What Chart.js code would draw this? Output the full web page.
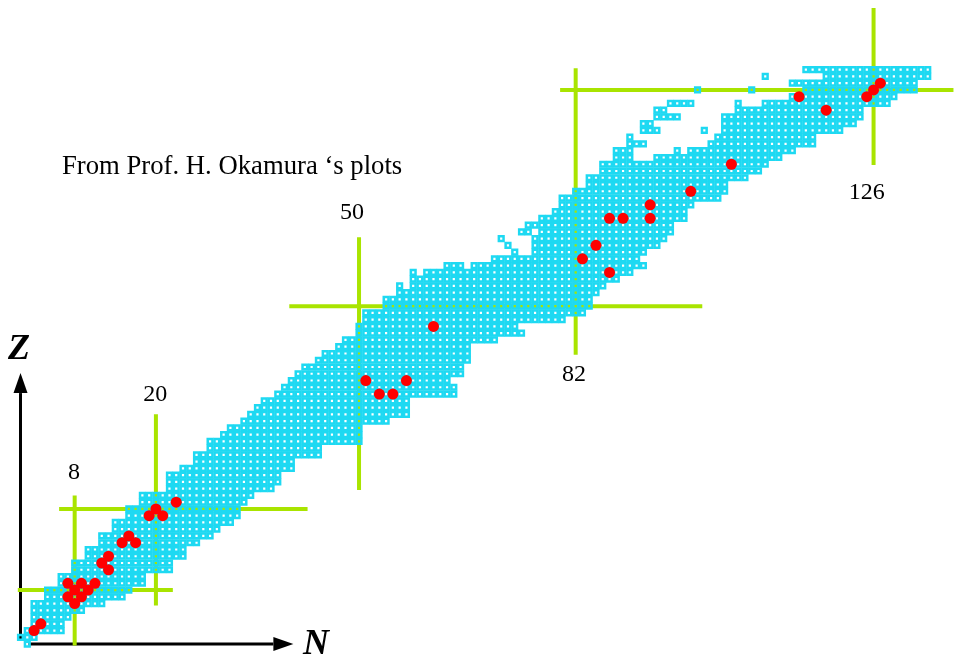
<!DOCTYPE html>
<html>
<head>
<meta charset="utf-8">
<script src="https://cdn.jsdelivr.net/npm/chart.js@4.4.0/dist/chart.umd.min.js"></script>
<style>
  html, body { margin: 0; padding: 0; background: #fff; }
  #wrap { width: 967px; height: 661px; position: relative; }
</style>
</head>
<body>
<div id="wrap"><canvas id="nuclideChart"></canvas></div>
<script>
// known nuclides: [Z, first N, last N]
const knownRuns = [
  [0, 1, 1], [1, 0, 2], [2, 1, 6], [3, 2, 6], [4, 2, 7], [5, 2, 9], [6, 2, 12],
  [7, 4, 15], [8, 4, 16], [9, 6, 18], [10, 6, 18], [11, 8, 22], [12, 8, 22],
  [13, 10, 24], [14, 10, 24], [15, 12, 26], [16, 12, 28], [17, 14, 29], [18, 14, 31],
  [19, 16, 32], [20, 16, 32], [21, 18, 33], [22, 18, 34], [23, 22, 37], [24, 22, 38],
  [25, 22, 38], [26, 24, 40], [27, 26, 40], [28, 26, 44], [29, 28, 44], [30, 28, 50],
  [31, 30, 50], [32, 31, 50], [33, 33, 54], [34, 34, 57], [35, 35, 57], [36, 36, 57],
  [37, 38, 64], [38, 39, 64], [39, 40, 63], [40, 41, 65], [41, 42, 65], [42, 44, 66],
  [43, 45, 66], [44, 47, 66], [45, 48, 70], [46, 50, 74], [47, 50, 73], [48, 51, 80],
  [49, 51, 83], [50, 54, 84], [51, 54, 84], [52, 56, 85],
  [53, 56, 56], [53, 58, 86], [54, 58, 88], [55, 58, 58], [55, 60, 90],
  [56, 63, 65], [56, 67, 92], [57, 70, 91],
  [58, 73, 73], [58, 76, 92], [59, 72, 72], [59, 76, 94], [60, 71, 71], [60, 76, 95],
  [61, 74, 75], [61, 77, 96], [62, 75, 96], [63, 77, 98], [64, 79, 98], [65, 80, 99],
  [66, 80, 103], [67, 82, 104], [68, 84, 104], [69, 84, 107], [70, 86, 109], [71, 86, 110],
  [72, 88, 90], [72, 94, 112],
  [73, 88, 90], [73, 97, 97], [73, 99, 114],
  [74, 90, 92], [74, 102, 117],
  [75, 90, 90], [75, 103, 117],
  [76, 92, 94], [76, 101, 101], [76, 104, 121],
  [77, 92, 93], [77, 104, 123],
  [78, 94, 97], [78, 104, 124],
  [79, 94, 95], [79, 106, 124],
  [80, 96, 99], [80, 106, 106], [80, 110, 128],
  [81, 114, 129],
  [82, 100, 100], [82, 108, 108], [82, 116, 132],
  [83, 114, 132],
  [84, 110, 110], [84, 119, 134],
  [85, 116, 134]
];

// red marked nuclei [N, Z]
const redNuclei = [
  [2, 2], [3, 3],
  [7, 9], [9, 9], [11, 9], [7, 7], [8, 8], [9, 7], [10, 8], [8, 6],
  [13, 13], [12, 12], [13, 11],
  [16, 16], [15, 15], [17, 15],
  [20, 20], [19, 19], [21, 19], [23, 21],
  [51, 39], [53, 37], [55, 37], [57, 39], [61, 47],
  [83, 57], [85, 59], [87, 55], [87, 63], [89, 63], [93, 63], [93, 65], [99, 67], [105, 71],
  [115, 81], [119, 79], [125, 81], [126, 82], [127, 83]
];

// magic numbers: vertical lines at N, horizontal lines at Z
const magicN = [8, 20, 50, 82, 126];
const magicNSpan = [[-0.2, 22], [5.7, 34], [22.8, 60.2], [42.8, 85.2], [70.9, 94.1]];
const magicZ = [8, 20, 50, 82];
const magicZSpan = [[-0.4, 22.5], [5.7, 42.4], [39.7, 100.7], [79.7, 137.8]];
const magicLabels = ['8', '20', '50', '82', '126'];
const magicLabelAt = [[7.9, 25.3], [19.9, 36.85], [48.97, 63.8], [81.76, 39.8], [125.0, 66.75]];

const cellPoints = [];
knownRuns.forEach(([z, n0, n1]) => {
  for (let n = n0; n <= n1; n++) cellPoints.push({ x: n, y: z });
});

const green = '#a9e400';
const lineSets = [];
magicN.forEach((n, i) => {
  lineSets.push({
    type: 'line', order: 3,
    data: [{ x: n, y: magicNSpan[i][0] }, { x: n, y: magicNSpan[i][1] }],
    borderColor: green, borderWidth: 4, pointRadius: 0, clip: false
  });
});
magicZ.forEach((z, i) => {
  lineSets.push({
    type: 'line', order: 3,
    data: [{ x: magicZSpan[i][0], y: z }, { x: magicZSpan[i][1], y: z }],
    borderColor: green, borderWidth: 4, pointRadius: 0, clip: false
  });
});

function arrow(ctx, x0, y0, x1, y1) {
  const a = Math.atan2(y1 - y0, x1 - x0);
  const len = 20, half = 7;
  ctx.beginPath();
  ctx.moveTo(x0, y0);
  ctx.lineTo(x1 - len * Math.cos(a), y1 - len * Math.sin(a));
  ctx.stroke();
  ctx.beginPath();
  ctx.moveTo(x1, y1);
  ctx.lineTo(x1 - len * Math.cos(a) - half * Math.sin(a), y1 - len * Math.sin(a) + half * Math.cos(a));
  ctx.lineTo(x1 - len * Math.cos(a) + half * Math.sin(a), y1 - len * Math.sin(a) - half * Math.cos(a));
  ctx.closePath();
  ctx.fill();
}

const decorations = {
  id: 'decorations',
  beforeDatasetsDraw(chart) {
    const ctx = chart.ctx, xs = chart.scales.x, ys = chart.scales.y;
    ctx.save();
    ctx.strokeStyle = '#000';
    ctx.fillStyle = '#000';
    ctx.lineWidth = 3;
    const ox = xs.getPixelForValue(0), oy = ys.getPixelForValue(0);
    arrow(ctx, ox, oy - 4, ox, ys.getPixelForValue(40.1));
    arrow(ctx, ox + 8, oy, xs.getPixelForValue(40.3), oy);
    ctx.restore();
  },
  afterDatasetsDraw(chart) {
    const ctx = chart.ctx, xs = chart.scales.x, ys = chart.scales.y;
    ctx.save();
    ctx.fillStyle = '#000';
    ctx.textAlign = 'center';
    ctx.textBaseline = 'middle';
    ctx.font = "24px 'Liberation Serif', 'Times New Roman', serif";
    magicLabels.forEach((t, i) => {
      ctx.fillText(t, xs.getPixelForValue(magicLabelAt[i][0]), ys.getPixelForValue(magicLabelAt[i][1]));
    });
    ctx.font = "bold italic 36px 'Liberation Serif', 'Times New Roman', serif";
    ctx.fillText('Z', 19, 350);
    ctx.fillText('N', 316, 645);
    ctx.textAlign = 'left';
    ctx.textBaseline = 'alphabetic';
    ctx.font = "26.7px 'Liberation Serif', 'Times New Roman', serif";
    ctx.fillText('From Prof. H. Okamura \u2018s plots', 62, 174);
    ctx.restore();
  }
};

new Chart(document.getElementById('nuclideChart'), {
  type: 'scatter',
  data: {
    datasets: [
      {
        label: 'marked',
        order: 1,
        data: redNuclei.map(([n, z]) => ({ x: n, y: z })),
        pointStyle: 'circle',
        pointRadius: 5.5,
        backgroundColor: '#ff0000',
        borderWidth: 0,
        clip: false
      },
      {
        label: 'known nuclides',
        order: 2,
        data: cellPoints,
        pointStyle: 'rect',
        pointRadius: 3.32,
        backgroundColor: 'rgba(0,0,0,0)',
        borderColor: '#1ed9f2',
        borderWidth: 2.5,
        clip: false
      },
      ...lineSets
    ]
  },
  options: {
    responsive: true,
    maintainAspectRatio: false,
    animation: false,
    layout: { padding: 0, autoPadding: false },
    plugins: { legend: { display: false }, tooltip: { enabled: false } },
    scales: {
      x: { type: 'linear', display: false, min: -3.03, max: 139.8 },
      y: { type: 'linear', display: false, min: -2.5, max: 95.3 }
    }
  },
  plugins: [decorations]
});
</script>
</body>
</html>
